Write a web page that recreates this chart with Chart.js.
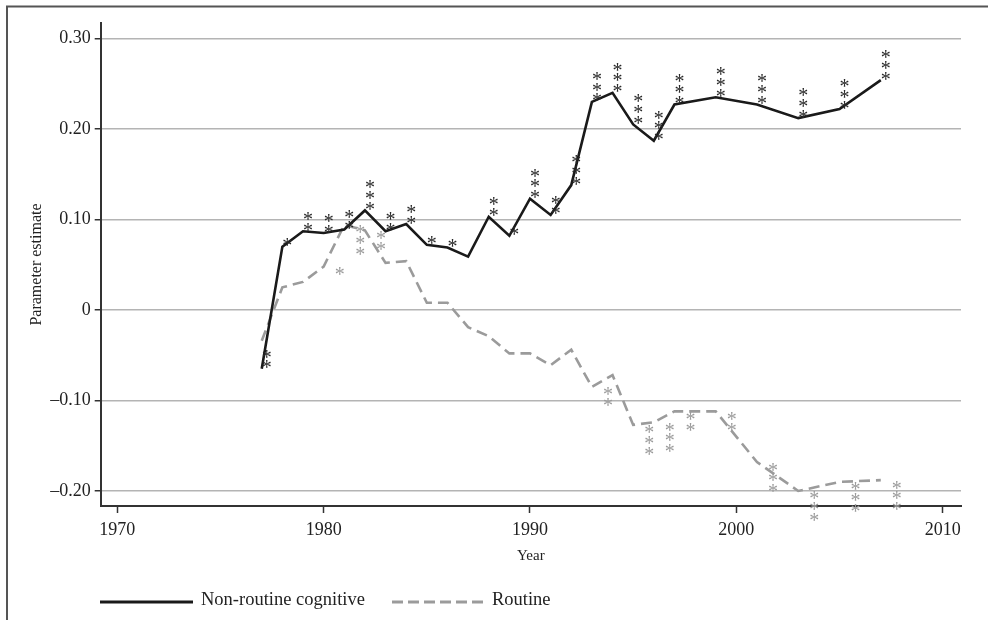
<!DOCTYPE html>
<html>
<head>
  <title>Parameter estimate by year</title>
  <style>
    body {
      margin: 0;
      padding: 0;
      background: #fff;
    }
    #wrap {
      width: 988px;
      height: 620px;
    }
  </style>
</head>
<body>
  <div id="wrap"><canvas id="chart" width="988" height="620"></canvas></div>

  <script src="https://cdn.jsdelivr.net/npm/chart.js"></script>
  <script>
    // values
    const years = [1977, 1978, 1979, 1980, 1981, 1982, 1983, 1984, 1985, 1986, 1987, 1988, 1989,
                   1990, 1991, 1992, 1993, 1994, 1995, 1996, 1997, 1999, 2001, 2003, 2005, 2007];
    const nonRoutine = [-0.065, 0.070, 0.087, 0.085, 0.089, 0.110, 0.087, 0.095, 0.072, 0.069, 0.059, 0.103, 0.082,
                        0.123, 0.105, 0.138, 0.230, 0.240, 0.205, 0.187, 0.227, 0.235, 0.227, 0.212, 0.222, 0.254];
    const routine = [-0.034, 0.025, 0.031, 0.048, 0.094, 0.088, 0.052, 0.054, 0.008, 0.008, -0.019, -0.029, -0.048,
                     -0.048, -0.061, -0.044, -0.085, -0.072, -0.127, -0.124, -0.112, -0.112, -0.168, -0.200, -0.190, -0.188];
    // number of significance stars per point
    const nonRoutineStars = [2, 1, 2, 2, 2, 3, 2, 2, 1, 1, 0, 2, 1, 3, 2, 3, 3, 3, 3, 3, 3, 3, 3, 3, 3, 3];
    const routineStars = [0, 0, 0, 1, 3, 2, 0, 0, 0, 0, 0, 0, 0, 0, 0, 0, 2, 0, 3, 3, 2, 2, 3, 3, 3, 3];

    const seriesNames = ['Non-routine cognitive', 'Routine'];
    const yTicks = [-0.2, -0.1, 0, 0.1, 0.2, 0.3];
    const yTickLabels = ['\u20130.20', '\u20130.10', '0', '0.10', '0.20', '0.30'];
    const xTicks = [1970, 1980, 1990, 2000, 2010];

    const serif = '"Liberation Serif", "Times New Roman", serif';
    const ink = '#222';
    const grey = '#9b9b9b';

    const toPoints = vals => years.map((yr, i) => ({ x: yr, y: vals[i] }));

    const starPlugin = {
      id: 'stars',
      afterDatasetsDraw(chart) {
        const { ctx, scales: { x, y } } = chart;
        ctx.save();
        ctx.font = '20px ' + serif;
        ctx.textAlign = 'center';
        ctx.textBaseline = 'alphabetic';
        const m = ctx.measureText('*');
        const mid = (m.actualBoundingBoxAscent - m.actualBoundingBoxDescent) / 2;
        const draw = (vals, counts, color, dx, dir) => {
          ctx.fillStyle = color;
          years.forEach((yr, i) => {
            for (let k = 0; k < counts[i]; k++) {
              const cx = x.getPixelForValue(yr) + dx;
              const cy = y.getPixelForValue(vals[i]) + dir * (4.5 + k * 10.8);
              ctx.fillText('*', cx, cy + mid);
            }
          });
        };
        draw(nonRoutine, nonRoutineStars, '#2a2a2a', 5, -1);
        draw(routine, routineStars, grey, 16, 1);
        ctx.restore();
      }
    };

    // frame + legend under the plot
    const legendPlugin = {
      id: 'legendFrame',
      afterDraw(chart) {
        const ctx = chart.ctx;
        ctx.save();
        ctx.strokeStyle = '#555';
        ctx.lineWidth = 2;
        ctx.beginPath();
        ctx.moveTo(7, 620);
        ctx.lineTo(7, 6.5);
        ctx.lineTo(988, 6.5);
        ctx.stroke();

        const ly = 602;
        ctx.lineWidth = 3;
        ctx.strokeStyle = '#1a1a1a';
        ctx.beginPath();
        ctx.moveTo(100, ly);
        ctx.lineTo(193, ly);
        ctx.stroke();

        ctx.strokeStyle = grey;
        ctx.setLineDash([11, 5]);
        ctx.beginPath();
        ctx.moveTo(392, ly);
        ctx.lineTo(484, ly);
        ctx.stroke();
        ctx.setLineDash([]);

        ctx.fillStyle = ink;
        ctx.font = '18.5px ' + serif;
        ctx.textBaseline = 'middle';
        ctx.fillText(seriesNames[0], 201, ly - 2);
        ctx.fillText(seriesNames[1], 492, ly - 2);
        ctx.restore();
      }
    };

    new Chart(document.getElementById('chart').getContext('2d'), {
      type: 'line',
      data: {
        datasets: [{
          label: seriesNames[0],
          data: toPoints(nonRoutine),
          borderColor: '#1a1a1a',
          borderWidth: 2.6,
          pointRadius: 0,
          tension: 0
        }, {
          label: seriesNames[1],
          data: toPoints(routine),
          borderColor: grey,
          borderWidth: 2.6,
          borderDash: [11, 6],
          pointRadius: 0,
          tension: 0
        }]
      },
      options: {
        responsive: false,
        animation: false,
        layout: { padding: { left: 0, top: 23, right: 27, bottom: 0 } },
        plugins: {
          legend: { display: false },
          tooltip: { enabled: false }
        },
        scales: {
          x: {
            type: 'linear',
            min: 1969.196,
            max: 2010.887,
            afterBuildTicks: s => { s.ticks = xTicks.map(v => ({ value: v })); },
            afterFit: s => { s.height = 114; },
            grid: { drawOnChartArea: false, drawTicks: true, tickLength: 7, tickColor: '#333', tickWidth: 1.5 },
            border: { display: true, color: '#333', width: 2 },
            ticks: { color: ink, font: { family: serif, size: 18 }, padding: 6, maxRotation: 0, callback: v => String(v) },
            title: { display: true, text: 'Year', color: ink, font: { family: serif, size: 15 }, padding: { top: 0, bottom: 55 } }
          },
          y: {
            type: 'linear',
            min: -0.2166,
            max: 0.3171,
            afterBuildTicks: s => { s.ticks = yTicks.map(v => ({ value: v })); },
            afterFit: s => { s.width = 100.7; },
            grid: { color: '#b4b4b4', lineWidth: 1.5, tickLength: 6, tickColor: '#333', tickWidth: 1.5 },
            border: { display: true, color: '#333', width: 2 },
            ticks: {
              color: ink,
              font: { family: serif, size: 18 },
              padding: 4,
              callback: v => yTickLabels[yTicks.findIndex(t => Math.abs(t - v) < 1e-9)]
            },
            title: { display: true, text: 'Parameter estimate', color: ink, font: { family: serif, size: 16 }, padding: { top: 27.5, bottom: 0 } }
          }
        }
      },
      plugins: [starPlugin, legendPlugin]
    });
  </script>
</body>
</html>
